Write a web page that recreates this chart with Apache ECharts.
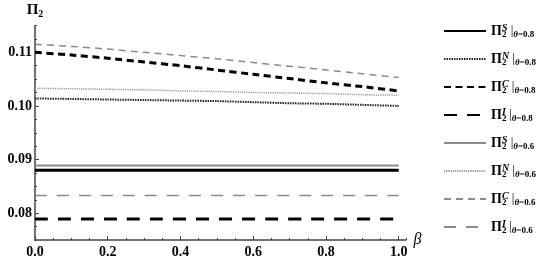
<!DOCTYPE html>
<html>
<head>
<meta charset="utf-8">
<script src="https://cdn.jsdelivr.net/npm/echarts@6/dist/echarts.min.js"></script>
<style>
  html, body { margin: 0; padding: 0; background: #fff; }
  #chart { width: 550px; height: 262px; }
</style>
</head>
<body>
<div id="chart"></div>
<script>
// beta grid for the curved series
const beta = [0, 0.1, 0.2, 0.3, 0.4, 0.5, 0.6, 0.7, 0.8, 0.9, 1.0]
const betaEnds = [0, 1]

// theta = 0.8
const piS08 = [0.0880, 0.0880]
const piN08 = [0.1014, 0.1013, 0.1012, 0.1011, 0.1010, 0.1009, 0.1007, 0.1005, 0.1004, 0.1002, 0.1000]
const piC08 = [0.1100, 0.1095, 0.1089, 0.1082, 0.1075, 0.1067, 0.1059, 0.1051, 0.1043, 0.1036, 0.1028]
const piI08 = [0.0789, 0.0789]

// theta = 0.6
const piS06 = [0.0889, 0.0889]
const piN06 = [0.1033, 0.1032, 0.1031, 0.1030, 0.1028, 0.1027, 0.1025, 0.1024, 0.1023, 0.1021, 0.1020]
const piC06 = [0.1115, 0.1111, 0.1106, 0.1100, 0.1094, 0.1088, 0.1081, 0.1074, 0.1067, 0.1060, 0.1053]
const piI06 = [0.0833, 0.0833]

const yMajor = [0.08, 0.09, 0.10, 0.11]
const xMajor = [0, 0.2, 0.4, 0.6, 0.8, 1.0]

const SERIF = '"Liberation Serif", "DejaVu Serif", serif'
const BLACK = '#000'
const GRAY = '#8a8a8a'

const pairs = (xs, ys) => xs.map((x, i) => [x, ys[i]])

const mk = (name, xs, ys, color, width, dash) => ({
  name: name,
  type: 'line',
  data: pairs(xs, ys),
  symbol: 'none',
  smooth: 0.2,
  silent: true,
  animation: false,
  lineStyle: { color: color, width: width, type: dash },
  itemStyle: { color: color }
})

const series = [
  mk('S|0.8', betaEnds, piS08, BLACK, 3, 'solid'),
  mk('N|0.8', beta, piN08, '#222', 2, [1.5, 1]),
  mk('C|0.8', beta, piC08, BLACK, 3, [7, 4.5]),
  mk('I|0.8', betaEnds, piI08, BLACK, 3, [13, 10]),
  mk('S|0.6', betaEnds, piS06, GRAY, 2, 'solid'),
  mk('N|0.6', beta, piN06, '#999', 1.5, [1.2, 1]),
  mk('C|0.6', beta, piC06, GRAY, 1.5, [7, 5]),
  mk('I|0.6', betaEnds, piI06, GRAY, 1.5, [12, 10])
]

const isMult = (v, step) => Math.abs(Math.round(v / step) * step - v) < 1e-9

const chart = echarts.init(document.getElementById('chart'), null, { renderer: 'canvas' })

const axisLineStyle = { color: '#444', width: 1.5 }

chart.setOption({
  backgroundColor: '#fff',
  animation: false,
  grid: { left: 35, right: 144, top: 25.5, bottom: 22, containLabel: false },
  legend: {
    orient: 'vertical',
    left: 443,
    top: 23,
    padding: 0,
    itemWidth: 42,
    itemHeight: 16,
    itemGap: 12,
    selectedMode: false,
    data: series.map(s => s.name),
    itemStyle: { color: 'rgba(0,0,0,0)', borderWidth: 0, opacity: 0 },
    formatter: name => {
      const parts = name.split('|')
      return '{p|Π}{d|2}{u|' + parts[0] + '}{bar| |}{th|θ}{t|=' + parts[1] + '}'
    },
    textStyle: {
      color: '#000',
      fontFamily: SERIF,
      rich: {
        p: { fontFamily: SERIF, fontSize: 14, fontWeight: 'bold', color: '#000', lineHeight: 16 },
        d: { fontFamily: SERIF, fontSize: 9, fontWeight: 'bold', color: '#000', verticalAlign: 'bottom', lineHeight: 16, width: 0 },
        u: { fontFamily: SERIF, fontSize: 10, fontStyle: 'italic', fontWeight: 'bold', color: '#000', verticalAlign: 'top', lineHeight: 16 },
        bar: { fontFamily: SERIF, fontSize: 13, color: '#000', lineHeight: 16 },
        t: { fontFamily: SERIF, fontSize: 9, fontWeight: 'bold', color: '#000', verticalAlign: 'bottom', lineHeight: 16 },
        th: { fontFamily: SERIF, fontSize: 9, fontStyle: 'italic', fontWeight: 'bold', color: '#000', verticalAlign: 'bottom', lineHeight: 16 }
      }
    }
  },
  xAxis: [
    {
      type: 'value',
      min: 0,
      max: 1.02,
      interval: 0.05,
      name: 'β',
      nameLocation: 'end',
      nameGap: 7,
      nameTextStyle: { fontFamily: SERIF, fontSize: 16, fontStyle: 'italic', color: '#000', padding: [6, 0, 0, 0] },
      axisLine: { lineStyle: axisLineStyle },
      axisTick: { inside: true, length: 2, lineStyle: { color: '#444', width: 1 } },
      axisLabel: {
        margin: 5,
        fontFamily: SERIF,
        fontSize: 14,
        fontWeight: 'bold',
        color: '#000',
        formatter: v => (isMult(v, 0.2) && v <= 1.0001 ? v.toFixed(1) : '')
      },
      splitLine: { show: false }
    },
    {
      type: 'value',
      min: 0,
      max: 1.02,
      position: 'bottom',
      axisLine: { show: false },
      axisTick: { show: true, inside: true, length: 4, customValues: xMajor, lineStyle: { color: '#444', width: 1 } },
      axisLabel: { show: false },
      splitLine: { show: false }
    }
  ],
  yAxis: [
    {
      type: 'value',
      min: 0.075,
      max: 0.115,
      interval: 0.0025,
      name: '{p|Π}{d|2}',
      nameLocation: 'end',
      nameGap: 6,
      nameTextStyle: {
        rich: {
          p: { fontFamily: SERIF, fontSize: 15, fontWeight: 'bold', color: '#000', lineHeight: 18 },
          d: { fontFamily: SERIF, fontSize: 10, fontWeight: 'bold', color: '#000', verticalAlign: 'bottom', lineHeight: 18 }
        }
      },
      axisLine: { lineStyle: axisLineStyle },
      axisTick: { inside: true, length: 2, lineStyle: { color: '#444', width: 1 } },
      axisLabel: {
        margin: 3,
        fontFamily: SERIF,
        fontSize: 14,
        fontWeight: 'bold',
        color: '#000',
        formatter: v => (isMult(v, 0.01) ? v.toFixed(2) : '')
      },
      splitLine: { show: false }
    },
    {
      type: 'value',
      min: 0.075,
      max: 0.115,
      position: 'left',
      axisLine: { show: false },
      axisTick: { show: true, inside: true, length: 4, customValues: yMajor, lineStyle: { color: '#444', width: 1 } },
      axisLabel: { show: false },
      splitLine: { show: false }
    }
  ],
  series: series
})
</script>
</body>
</html>
